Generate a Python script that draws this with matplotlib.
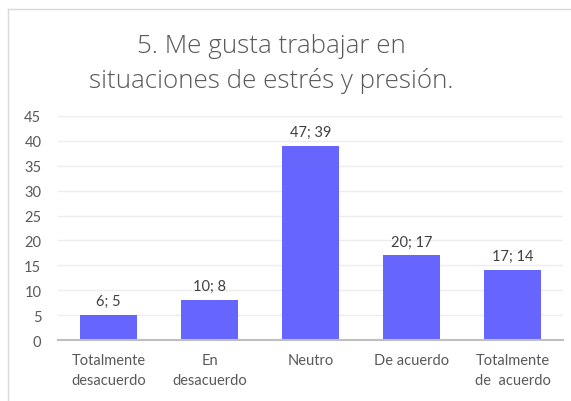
import matplotlib.pyplot as plt
from matplotlib.lines import Line2D

categories = ['Totalmente\ndesacuerdo', 'En\ndesacuerdo', 'Neutro', 'De acuerdo', 'Totalmente\nde  acuerdo']
values = [5, 8, 39, 17, 14]
bar_labels = ['6; 5', '10; 8', '47; 39', '20; 17', '17; 14']
yticks = [0, 5, 10, 15, 20, 25, 30, 35, 40, 45]

plt.rcParams['font.family'] = ['Lato', 'DejaVu Sans']

fig = plt.figure(figsize=(5.71, 4.02), dpi=100)
ax = fig.add_axes([0.1016, 0.1517, 0.8844, 0.5573])

x = range(len(categories))
ax.bar(x, values, width=0.56, color='#6666FF', zorder=3)

for xi, v, lab in zip(x, values, bar_labels):
    ax.annotate(lab, (xi, v), xytext=(0, 5), textcoords='offset points',
                ha='center', va='bottom', fontsize=10.5, color='#404040')

ax.set_xlim(-0.5, len(categories) - 0.5)
ax.set_ylim(0, 45)
ax.set_yticks(yticks)
ax.set_xticks(list(x))
ax.set_xticklabels(categories, fontsize=10.5, color='#595959', linespacing=1.55)
ax.tick_params(axis='y', length=0, pad=12, labelsize=10.5, labelcolor='#595959')
ax.tick_params(axis='x', length=0, pad=9)
ax.grid(axis='y', color='#EDEDED', lw=1, zorder=0)
for s in ['top', 'right', 'left']:
    ax.spines[s].set_visible(False)
ax.spines['bottom'].set_color('#BFBFBF')
ax.spines['bottom'].set_linewidth(1.5)
ax.spines['bottom'].set_zorder(4)

fig.text(271 / 571, 1 - 64 / 402, '5. Me gusta trabajar en\nsituaciones de estrés y presión.',
         ha='center', va='center', fontsize=18.7, color='#595959', linespacing=1.45,
         family=['Open Sans', 'DejaVu Sans'], fontweight='light')

# chart frame
fig.add_artist(Line2D([8 / 571, 8 / 571], [0, 1 - 10 / 402], transform=fig.transFigure, color='#D9D9D9', lw=1))
fig.add_artist(Line2D([8 / 571, 1], [1 - 10 / 402, 1 - 10 / 402], transform=fig.transFigure, color='#D9D9D9', lw=1))

fig.savefig('out.png', dpi=100)
